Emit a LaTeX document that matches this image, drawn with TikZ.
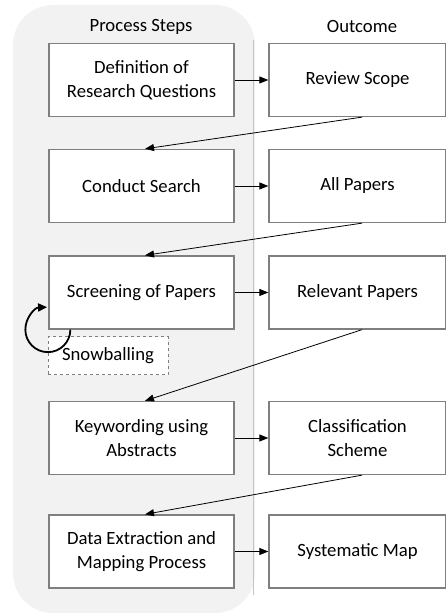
\documentclass[tikz,border=0pt]{standalone}
\usepackage{fontspec}
\setmainfont{Carlito}
\usetikzlibrary{arrows.meta,positioning}
\definecolor{panelgray}{HTML}{F2F2F2}
\definecolor{panelline}{HTML}{C4C4C4}
\definecolor{boxline}{HTML}{7F7F7F}
\tikzset{
  stepbox/.style={draw=boxline, line width=1.3pt, fill=white, minimum width=185pt,
    minimum height=73pt, align=center, inner sep=0pt,
    font=\fontsize{18.7}{24}\selectfont},
  outbox/.style={stepbox, minimum width=177pt},
  header/.style={font=\fontsize{18.7}{24}\selectfont},
  flow/.style={draw=black, line width=0.8pt, -{Triangle[length=9pt,width=7pt]}},
  loopflow/.style={draw=black, line width=1.8pt, -{Triangle[length=9pt,width=8pt]}},
  snowbox/.style={draw=boxline, dashed, line width=1pt, fill=white,
    minimum width=120pt, minimum height=38pt, inner sep=0pt,
    font=\fontsize{18.7}{24}\selectfont}
}
\begin{document}
\begin{tikzpicture}[x=1pt,y=1pt]
  \useasboundingbox (0,0) rectangle (445,615);
  % grey panel behind the process steps, with a thin separator on its right side
  \fill[panelgray, rounded corners=40pt] (13,2) rectangle (255,610);
  \draw[panelline, line width=0.8pt] (253,575) -- (253,20);

  % column headers
  \node[header] (hsteps) at (141,588) {Process Steps};
  \node[header] (hout) at (362,588) {Outcome};

  % process steps
  \node[stepbox] (l1) at (141.5,535) {Definition of\\Research Questions};
  \node[stepbox] (l2) at (141.5,429) {Conduct Search};
  \node[stepbox] (l3) at (141.5,322.5) {Screening of Papers};
  \node[stepbox] (l4) at (141.5,177) {Keywording using\\Abstracts};
  \node[stepbox] (l5) at (141.5,63.5) {Data Extraction and\\Mapping Process};

  % outcomes
  \node[outbox] (r1) at (357.5,535) {Review Scope};
  \node[outbox] (r2) at (357.5,429) {All Papers};
  \node[outbox] (r3) at (357.5,322.5) {Relevant Papers};
  \node[outbox] (r4) at (357.5,177) {Classification\\Scheme};
  \node[outbox] (r5) at (357.5,63.5) {Systematic Map};

  % snowballing sub-step
  \node[snowbox] (snow) at (108,259) {Snowballing};

  % step -> outcome
  \foreach \i in {1,...,5} {
    \draw[flow] (l\i.east) -- (r\i.west);
  }
  % outcome -> next step
  \foreach \i/\j in {1/2,2/3,3/4,4/5} {
    \draw[flow] ([xshift=4.5pt]r\i.south) -- ([xshift=3.5pt]l\j.north);
  }

  % snowballing loop around the screening box corner
  \coordinate (loopstart) at ([xshift=22pt]l3.south west);
  \draw[loopflow] (loopstart) arc[start angle=0, end angle=-268, radius=22.5pt];
\end{tikzpicture}
\end{document}
